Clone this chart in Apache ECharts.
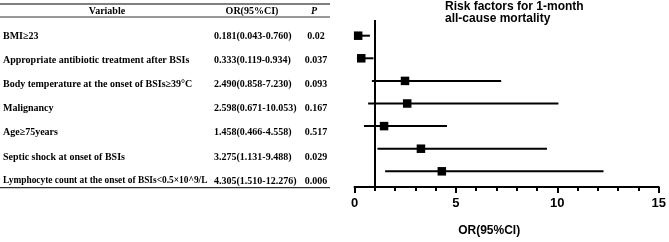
<!DOCTYPE html>
<html>
<head>
<meta charset="utf-8">
<script src="https://cdn.jsdelivr.net/npm/echarts@6/dist/echarts.min.js"></script>
<style>
  html, body { margin: 0; padding: 0; background: #fff; }
  #chart { width: 669px; height: 242px; }
</style>
</head>
<body>
<div id="chart"></div>
<script>
// table rows / forest plot data
const variables = [
  'BMI≥23',
  'Appropriate antibiotic treatment after BSIs',
  'Body temperature at the onset of BSIs≥39°C',
  'Malignancy',
  'Age≥75years',
  'Septic shock at onset of BSIs',
  'Lymphocyte count at the onset of BSIs<0.5×10^9/L'
];
const orValues = [0.181, 0.333, 2.490, 2.598, 1.458, 3.275, 4.305];
const ciLow = [0.043, 0.119, 0.858, 0.671, 0.466, 1.131, 1.510];
const ciHigh = [0.760, 0.934, 7.230, 10.053, 4.558, 9.488, 12.276];
const pValues = ['0.02', '0.037', '0.093', '0.167', '0.517', '0.029', '0.006'];
const headers = ['Variable', 'OR(95%CI)', 'P'];
const xMin = 0, xMax = 15, xStep = 5;
const refValue = 1;

const serif = '"Liberation Serif", "Times New Roman", serif';
const sans = '"Liberation Sans", Arial, sans-serif';

const chart = echarts.init(document.getElementById('chart'));

const orText = orValues.map((v, i) =>
  v.toFixed(3) + '(' + ciLow[i].toFixed(3) + '-' + ciHigh[i].toFixed(3) + ')');

// long variable names are squeezed a little so they stay inside their column
const measure = document.createElement('canvas').getContext('2d');
const varFontSize = variables.map(v => {
  measure.font = 'bold 10px ' + serif;
  const w = measure.measureText(v).width;
  return w > 207 ? Math.floor(10 * 207 / w * 10) / 10 : 10;
});

const cell = (w, align, size) => ({ width: w, align: align, fontFamily: serif, fontWeight: 'bold', fontSize: size, color: '#000' });
const rich = { o: cell(90, 'left', 10), p: cell(24, 'center', 10) };
varFontSize.forEach((s, i) => { rich['v' + i] = cell(211, 'left', s); });

const option = {
  animation: false,
  backgroundColor: '#fff',
  title: {
    text: 'Risk factors for 1-month\nall-cause mortality',
    left: 445,
    top: 1,
    padding: 0,
    textStyle: { fontFamily: sans, fontWeight: 'bold', fontSize: 12, lineHeight: 12, color: '#000' }
  },
  grid: [
    { left: 354.5, right: 6, top: 20, bottom: 44.3 },
    { left: 0, width: 330, top: 24.675, height: 168.35 }
  ],
  xAxis: [
    {
      type: 'value', gridIndex: 0, min: xMin, max: xMax, interval: xStep,
      name: 'OR(95%CI)', nameLocation: 'middle', nameGap: 38,
      nameTextStyle: { fontFamily: sans, fontWeight: 'bold', fontSize: 12, color: '#000', padding: [0, 35, 0, 0] },
      axisLine: { show: true, onZero: false, lineStyle: { color: '#000', width: 2 } },
      axisTick: { show: true, length: 6, lineStyle: { color: '#000', width: 2 } },
      minorTick: { show: true, splitNumber: 5, length: 4, lineStyle: { color: '#000', width: 2 } },
      splitLine: { show: false },
      axisLabel: { margin: 10, fontFamily: sans, fontWeight: 'bold', fontSize: 13, color: '#000' }
    },
    { type: 'value', gridIndex: 1, show: false, min: 0, max: 1 }
  ],
  yAxis: [
    { type: 'value', gridIndex: 0, show: false, inverse: true, min: -0.694, max: 6.694 },
    {
      type: 'category', gridIndex: 1, inverse: true, data: variables,
      axisLine: { show: false }, axisTick: { show: false }, splitLine: { show: false },
      axisLabel: {
        inside: true, margin: 2, interval: 0,
        formatter: (v, i) => '{v' + i + '|' + v + '}{o|' + orText[i] + '}{p|' + pValues[i] + '}',
        rich: rich
      }
    }
  ],
  graphic: [
    { type: 'line', shape: { x1: 0, y1: 4, x2: 330, y2: 4 }, style: { stroke: '#555', lineWidth: 1.5 } },
    { type: 'line', shape: { x1: 0, y1: 17, x2: 330, y2: 17 }, style: { stroke: '#333', lineWidth: 1 } },
    { type: 'line', shape: { x1: 0, y1: 187.7, x2: 330, y2: 187.7 }, style: { stroke: '#000', lineWidth: 1 } },
    { type: 'text', x: 107, y: 11.5, style: { text: headers[0], align: 'center', verticalAlign: 'middle', font: 'bold 10px ' + serif, fill: '#000' } },
    { type: 'text', x: 252, y: 11.5, style: { text: headers[1], align: 'center', verticalAlign: 'middle', font: 'bold 10px ' + serif, fill: '#000' } },
    { type: 'text', x: 314, y: 11.5, style: { text: headers[2], align: 'center', verticalAlign: 'middle', font: 'italic bold 10px ' + serif, fill: '#000' } }
  ],
  series: [
    {
      type: 'custom',
      xAxisIndex: 0, yAxisIndex: 0,
      data: variables.map((v, i) => [i, ciLow[i], ciHigh[i], orValues[i]]),
      encode: { x: [1, 2, 3], y: 0 },
      renderItem: (params, api) => {
        const y = api.value(0);
        const lo = api.coord([api.value(1), y]);
        const hi = api.coord([api.value(2), y]);
        const c = api.coord([api.value(3), y]);
        const s = 8.5;
        return {
          type: 'group',
          children: [
            { type: 'line', shape: { x1: lo[0], y1: lo[1], x2: hi[0], y2: hi[1] }, style: { stroke: '#000', lineWidth: 2 } },
            { type: 'rect', shape: { x: c[0] - s / 2, y: c[1] - s / 2, width: s, height: s }, style: { fill: '#000' } }
          ]
        };
      },
      markLine: {
        silent: true, symbol: 'none', animation: false,
        label: { show: false },
        lineStyle: { color: '#000', width: 2, type: 'solid' },
        data: [{ xAxis: refValue }]
      }
    },
    { type: 'scatter', xAxisIndex: 1, yAxisIndex: 1, data: [] }
  ]
};

chart.setOption(option);
</script>
</body>
</html>
